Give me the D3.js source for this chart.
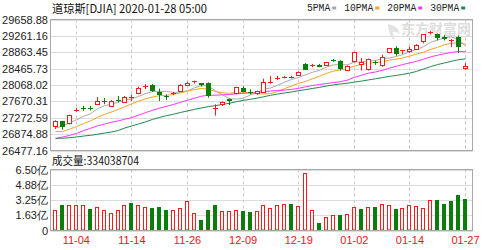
<!DOCTYPE html>
<html><head><meta charset="utf-8">
<script src="https://cdn.jsdelivr.net/npm/d3@7"></script>
<style>body{margin:0;background:#fff}svg{display:block}</style>
</head><body><svg id="c" width="500" height="250"></svg>
<script>
const dates = ["10-30","10-31","11-01","11-04","11-05","11-06","11-07","11-08","11-11","11-12",
 "11-13","11-14","11-15","11-18","11-19","11-20","11-21","11-22","11-25","11-26",
 "11-27","11-29","12-02","12-03","12-04","12-05","12-06","12-09","12-10","12-11",
 "12-12","12-13","12-16","12-17","12-18","12-19","12-20","12-23","12-24","12-26",
 "12-27","12-30","12-31","01-02","01-03","01-06","01-07","01-08","01-09","01-10",
 "01-13","01-14","01-15","01-16","01-17","01-21","01-22","01-23","01-24","01-27"];
const opens = [27070,27190,27160,27430,27500,27500,27600,27690,27580,27700,
 27660,27760,27880,28000,28080,27900,27800,27850,27930,28080,
 28130,28110,28110,27480,27600,27720,27860,28000,27900,27870,
 27900,28120,28200,28250,28270,28300,28590,28520,28560,28555,
 28680,28660,28440,28640,28580,28470,28620,28550,28850,28970,
 28880,28900,28940,29120,29330,29300,29240,29140,29240,28480];
const highs = [27210,27200,27350,27515,27560,27560,27775,27750,27700,27800,
 27800,27830,28030,28090,28090,27980,27840,27900,28090,28145,
 28175,28120,28130,27600,27670,27740,28020,28040,27960,27930,
 28220,28290,28290,28290,28290,28400,28600,28580,28580,28630,
 28700,28670,28545,28875,28720,28710,28660,28800,28960,29010,
 28910,29000,29060,29300,29375,29320,29280,29180,29270,28600];
const lows = [27000,26980,27110,27415,27440,27450,27590,27600,27540,27650,
 27640,27680,27840,27970,27900,27680,27700,27820,27920,28050,
 28100,28030,27760,27325,27560,27580,27840,27890,27840,27830,
 27870,28100,28190,28230,28230,28290,28440,28500,28500,28550,
 28630,28420,28410,28620,28420,28420,28560,28510,28840,28780,
 28820,28850,28920,29080,29300,29150,29150,28990,28840,28440];
const closes = [27186.69,27046.23,27347.36,27462.11,27492.63,27492.56,27674.80,27681.24,27691.49,27691.49,
 27783.59,27781.96,28004.89,28036.22,27934.02,27821.09,27766.29,27875.62,28066.47,28121.68,
 28164.00,28051.41,27783.04,27502.81,27649.78,27677.79,28015.06,27909.60,27881.72,27911.30,
 28132.05,28135.38,28235.89,28267.16,28239.28,28376.96,28455.09,28551.53,28515.45,28621.39,
 28645.26,28462.14,28538.44,28868.80,28634.88,28703.38,28583.68,28745.09,28956.90,28823.77,
 28907.05,28939.67,29030.22,29297.64,29348.10,29196.04,29186.27,29160.09,28989.73,28535.80];
const priorCloses = [27094.79,26935.07,26949.99,26807.77,26970.71,26891.12,26820.25,26916.83,
 26573.04,26078.62,26201.04,26573.72,26478.02,26164.04,26346.01,26496.67,26816.59,26787.36,
 27024.80,26998.11,27025.88,26770.20,26827.64,26788.10,26833.95,26805.53,26958.06,27090.72,27071.46];
const volumes = [2.22,2.69,2.69,2.69,2.76,2.33,2.51,2.15,1.90,2.15,
 2.69,2.97,2.76,2.51,2.40,2.51,2.22,2.15,2.40,3.15,
 1.90,1.15,2.22,2.69,2.04,2.04,2.22,2.08,1.97,2.04,
 2.69,2.40,2.69,2.79,2.86,2.62,6.09,2.22,0.82,1.43,
 1.68,1.68,1.79,2.51,2.33,2.51,2.51,2.86,2.69,2.33,
 2.40,2.76,2.62,2.40,3.22,3.22,2.86,3.11,3.76,3.34];
const priceTicks = ["26477.16","26874.88","27272.59","27670.31","28068.02","28465.73","28863.45","29261.16","29658.88"];
const volTicks = [0,1.63,3.25,4.88,6.50];
const volTickLabels = ["0","1.63亿","3.25亿","4.88亿","6.50亿"];
const dateTicks = ["11-04","11-14","11-26","12-09","12-19","01-02","01-14","01-27"];
const maPeriods = [5,10,20,30];
const maNames = ["5PMA","10PMA","20PMA","30PMA"];
const maColors = ["#a9a9a9","#f5a623","#ff33ff","#1f8a4c"];
const titleText = "道琼斯[DJIA] 2020-01-28 05:00";
const volTitle = "成交量:334038704";

const RED = "#ff1a1a", GREEN = "#0a7d0a";
const svg = d3.select("#c");
const L = 50.5, R = 472.5, T1 = 19.5, B1 = 150.5, T2 = 169.5, B2 = 230.5;
const priceVals = priceTicks.map(Number);
const x = d3.scaleBand().domain(dates).range([52, 469]);
const cx = d => Math.floor(x(d) + x.bandwidth() / 2);
const y = d3.scaleLinear().domain([priceVals[0], priceVals[priceVals.length - 1]]).range([B1, T1]);
const yv = d3.scaleLinear().domain([0, 6.5]).range([B2, T2]);
const font = "'Liberation Sans', Arial, sans-serif";
const cjk = "'Noto Sans CJK SC', sans-serif";

// grids
const grid = svg.append("g");
grid.selectAll(".hp").data(priceVals).join("line")
  .attr("x1", L).attr("x2", R).attr("y1", d => Math.round(y(d)) + 0.5).attr("y2", d => Math.round(y(d)) + 0.5)
  .attr("stroke", "#dcdcdc");
grid.selectAll(".hv").data(volTicks).join("line")
  .attr("x1", L).attr("x2", R).attr("y1", d => Math.round(yv(d)) + 0.5).attr("y2", d => Math.round(yv(d)) + 0.5)
  .attr("stroke", "#dcdcdc");
[[T1, B1], [T2, B2]].forEach(([a, b]) => {
  grid.selectAll(null).data(dateTicks).join("line")
    .attr("x1", d => cx(d) + 0.5).attr("x2", d => cx(d) + 0.5).attr("y1", a).attr("y2", b)
    .attr("stroke", "#c8c8c8").attr("stroke-dasharray", "3,3");
});

// watermark
svg.append("text").attr("x", 401).attr("y", 34).text("东方财富网")
  .attr("font-family", cjk).attr("font-size", 14).attr("font-weight", "bold").attr("fill", "#dedede");
svg.append("path").attr("d", "M388,24 q10,2 12,10 q-4,-3 -8,-2 q3,3 2,8 q-6,-6 -6,-16z").attr("fill", "#e2e2e2");

// moving averages
const all = priorCloses.concat(closes);
const off = priorCloses.length;
maPeriods.forEach((p, k) => {
  const ma = closes.map((c, i) => d3.mean(all.slice(off + i - p + 1, off + i + 1)));
  svg.append("path").datum(ma)
    .attr("d", d3.line().x((v, i) => cx(dates[i]) + 0.5).y(v => y(v)))
    .attr("fill", "none").attr("stroke", maColors[k]).attr("stroke-width", 1);
});

// candles
const cd = dates.map((d, i) => ({d, o: opens[i], h: highs[i], l: lows[i], c: closes[i]}));
const cg = svg.append("g");
cd.forEach(e => {
  const up = e.c >= e.o, col = up ? RED : GREEN, X = cx(e.d);
  const yt = y(Math.max(e.o, e.c)), yb = y(Math.min(e.o, e.c));
  cg.append("line").attr("x1", X + 0.5).attr("x2", X + 0.5).attr("y1", y(e.h)).attr("y2", y(e.l)).attr("stroke", col);
  if (yb - yt < 1.5) {
    cg.append("line").attr("x1", X - 2).attr("x2", X + 3).attr("y1", Math.round(yt) + 0.5).attr("y2", Math.round(yt) + 0.5).attr("stroke", col);
  } else if (up) {
    cg.append("rect").attr("x", X - 1.5).attr("width", 4).attr("y", Math.round(yt) + 0.5).attr("height", Math.max(1, Math.round(yb - yt)))
      .attr("fill", "#fff").attr("stroke", col);
  } else {
    cg.append("rect").attr("x", X - 2).attr("width", 5).attr("y", Math.round(yt)).attr("height", Math.max(1, Math.round(yb - yt)))
      .attr("fill", col);
  }
});

// volume bars
const vg = svg.append("g");
volumes.forEach((v, i) => {
  const prev = i === 0 ? priorCloses[priorCloses.length - 1] : closes[i - 1];
  const up = closes[i] >= prev, X = cx(dates[i]);
  const top = Math.round(yv(v));
  if (up) {
    vg.append("rect").attr("x", X - 1.5).attr("width", 3).attr("y", top + 0.5).attr("height", 230 - top - 0.5)
      .attr("fill", "#fff").attr("stroke", RED);
  } else {
    vg.append("rect").attr("x", X - 2).attr("width", 4).attr("y", top).attr("height", 231 - top).attr("fill", GREEN);
  }
});

// borders
svg.append("rect").attr("x", L).attr("y", T1).attr("width", R - L).attr("height", B1 - T1).attr("fill", "none").attr("stroke", "#a8a8a8");
svg.append("rect").attr("x", L).attr("y", T2).attr("width", R - L).attr("height", B2 - T2).attr("fill", "none").attr("stroke", "#a8a8a8");

// axes
const ax = svg.append("g").attr("transform", `translate(${L - 0.5},0)`)
  .call(d3.axisLeft(y).tickValues(priceVals).tickFormat((d, i) => priceTicks[i]).tickSize(0).tickPadding(2));
ax.select(".domain").remove();
ax.selectAll("text").attr("font-family", font).attr("font-size", 11).attr("fill", "#222");
const axv = svg.append("g").attr("transform", `translate(${L - 0.5},0)`)
  .call(d3.axisLeft(yv).tickValues(volTicks).tickFormat((d, i) => volTickLabels[i]).tickSize(0).tickPadding(2));
axv.select(".domain").remove();
axv.selectAll("text").attr("font-family", font).attr("font-size", 11).attr("fill", "#222");
const axx = svg.append("g").attr("transform", `translate(0,${B2})`)
  .call(d3.axisBottom(x).tickValues(dateTicks).tickSize(0).tickPadding(6));
axx.select(".domain").remove();
axx.selectAll("text").attr("font-family", font).attr("font-size", 11).attr("fill", "#e8141a");

// titles
svg.append("text").attr("x", 52).attr("y", 12.5).text(titleText)
  .attr("font-family", cjk).attr("font-size", 11.5).attr("fill", "#111")
  .attr("textLength", 155).attr("lengthAdjust", "spacingAndGlyphs");
svg.append("text").attr("x", 52).attr("y", 165).text(volTitle)
  .attr("font-family", cjk).attr("font-size", 11.5).attr("fill", "#111")
  .attr("textLength", 87).attr("lengthAdjust", "spacingAndGlyphs");

// legend
let lx = 307;
maNames.forEach((n, k) => {
  const w = n.length * 5.8;
  svg.append("text").attr("x", lx).attr("y", 11).text(n)
    .attr("font-family", "'Liberation Mono', monospace").attr("font-size", 10).attr("fill", "#222")
    .attr("textLength", w).attr("lengthAdjust", "spacingAndGlyphs");
  svg.append("rect").attr("x", lx + w + 2).attr("y", 6.5).attr("width", 4).attr("height", 3).attr("fill", maColors[k]);
  lx += w + 14;
});
</script></body></html>
